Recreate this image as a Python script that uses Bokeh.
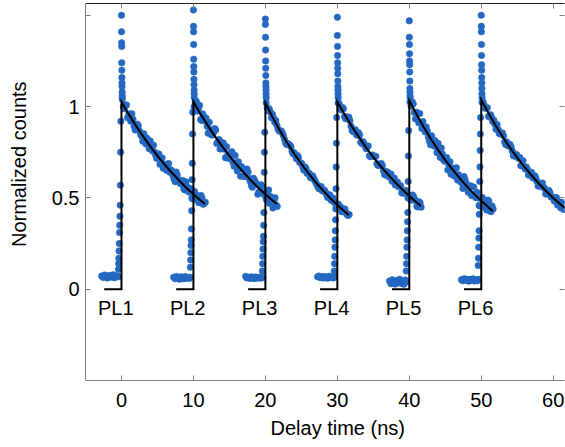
from bokeh.plotting import figure
from bokeh.models import Range1d, LinearAxis, FixedTicker, Title, ColumnDataSource
from bokeh.core.properties import value
from bokeh.embed import file_html
from bokeh.resources import INLINE

# ---------------- data ----------------
pl_names = ["PL1", "PL2", "PL3", "PL4", "PL5", "PL6"]
pl_start = [0, 10, 20, 30, 40, 50]          # ns, excitation time of each trace

x_ticks = [0, 10, 20, 30, 40, 50, 60]
y_ticks = [0, 0.5, 1, 1.5]
y_tick_labels = {0: "0", 0.5: "0.5", 1: "1", 1.5: ""}
x_title = "Delay time (ns)"
y_title = "Normalized counts"

# relative delay times (ns) of the measured points
base_t = [-2.75, -2.55, -2.35, -2.15, -1.95, -1.75, -1.55, -1.35, -1.15, -0.95, -0.75, -0.55, -0.4]
rise_t = [-0.42, -0.39, -0.36, -0.33, -0.30, -0.27, -0.24, -0.21, -0.18, -0.15, -0.12, -0.09]
spike_t = [0.0, 0.01, 0.02, 0.03, 0.04, 0.05, 0.06, 0.07, 0.08, 0.09, 0.10, 0.11]
decay_t = [0.1, 0.4, 0.7, 1.0, 1.3, 1.6, 1.9, 2.2, 2.5, 2.8, 3.1, 3.4, 3.7, 4.0, 4.3, 4.6,
           4.9, 5.2, 5.5, 5.8, 6.1, 6.4, 6.7, 7.0, 7.3, 7.6, 7.9, 8.2, 8.5, 8.8, 9.1, 9.4,
           9.7, 10.0, 10.3, 10.6, 10.9, 11.2, 11.5]
decay2_t = [0.25, 0.55, 0.85, 1.15, 1.45, 1.75, 2.05, 2.35, 2.65, 2.95, 3.25, 3.55, 3.85, 4.15,
            4.45, 4.75, 5.05, 5.35, 5.65, 5.95, 6.25, 6.55, 6.85, 7.15, 7.45, 7.75, 8.05, 8.35,
            8.65, 8.95, 9.25, 9.55, 9.85, 10.15, 10.45, 10.75, 11.05, 11.35, 11.65]
fit_t = [0, 1, 2, 3, 4, 5, 6, 7, 8, 9, 10, 11, 11.6]
fit_base_start = -2.4

pl1_base = [0.072, 0.064, 0.078, 0.068, 0.061, 0.075, 0.070, 0.066, 0.079, 0.063, 0.071, 0.074, 0.068]
pl2_base = [0.066, 0.058, 0.070, 0.061, 0.055, 0.068, 0.063, 0.057, 0.069, 0.060, 0.064, 0.059, 0.066]
pl3_base = [0.070, 0.062, 0.066, 0.059, 0.068, 0.064, 0.058, 0.067, 0.061, 0.065, 0.060, 0.066, 0.063]
pl4_base = [0.068, 0.072, 0.063, 0.069, 0.061, 0.070, 0.066, 0.060, 0.071, 0.064, 0.067, 0.062, 0.069]
pl5_base = [0.045, 0.030, 0.052, 0.038, 0.028, 0.048, 0.035, 0.055, 0.033, 0.044, 0.027, 0.050, 0.040]
pl6_base = [0.052, 0.046, 0.058, 0.049, 0.055, 0.044, 0.053, 0.048, 0.057, 0.045, 0.051, 0.047, 0.054]

pl1_rise = [0.11, 0.14, 0.17, 0.21, 0.25, 0.31, 0.35, 0.40, 0.46, 0.57, 0.75, 0.92]
pl2_rise = [0.12, 0.16, 0.20, 0.24, 0.27, 0.33, 0.43, 0.50, 0.60, 0.69, 0.85, 0.97]
pl3_rise = [0.10, 0.14, 0.18, 0.22, 0.26, 0.29, 0.35, 0.42, 0.52, 0.64, 0.75, 0.86]
pl4_rise = [0.10, 0.14, 0.18, 0.23, 0.27, 0.32, 0.38, 0.44, 0.55, 0.67, 0.80, 0.94]
pl5_rise = [0.10, 0.14, 0.18, 0.23, 0.27, 0.32, 0.37, 0.42, 0.50, 0.59, 0.73, 0.87]
pl6_rise = [0.13, 0.17, 0.23, 0.28, 0.32, 0.41, 0.50, 0.59, 0.67, 0.76, 0.85, 0.94]

pl1_spike = [1.50, 1.41, 1.35, 1.33, 1.24, 1.20, 1.16, 1.13, 1.11, 1.08, 1.06, 1.05]
pl2_spike = [1.53, 1.44, 1.41, 1.34, 1.26, 1.22, 1.19, 1.15, 1.12, 1.09, 1.07, 1.05]
pl3_spike = [1.48, 1.45, 1.38, 1.31, 1.25, 1.21, 1.17, 1.13, 1.11, 1.09, 1.07, 1.05]
pl4_spike = [1.49, 1.39, 1.33, 1.28, 1.24, 1.21, 1.18, 1.14, 1.11, 1.09, 1.07, 1.05]
pl5_spike = [1.47, 1.38, 1.34, 1.29, 1.25, 1.23, 1.19, 1.14, 1.10, 1.08, 1.06, 1.05]
pl6_spike = [1.50, 1.44, 1.41, 1.34, 1.28, 1.23, 1.20, 1.16, 1.13, 1.10, 1.07, 1.05]

pl1_decay = [1.040, 0.989, 1.009, 0.959, 0.920, 0.931, 0.872, 0.904, 0.866, 0.839, 0.852, 0.795,
             0.808, 0.812, 0.757, 0.751, 0.716, 0.741, 0.716, 0.662, 0.678, 0.685, 0.641, 0.648,
             0.605, 0.642, 0.600, 0.578, 0.596, 0.544, 0.563, 0.532, 0.551, 0.520, 0.490, 0.509,
             0.479, 0.499, 0.470]
pl2_decay = [1.000, 1.029, 0.989, 0.929, 0.960, 0.921, 0.892, 0.914, 0.846, 0.859, 0.872, 0.805,
             0.768, 0.802, 0.767, 0.781, 0.716, 0.731, 0.696, 0.732, 0.648, 0.675, 0.671, 0.618,
             0.625, 0.642, 0.590, 0.558, 0.596, 0.574, 0.533, 0.572, 0.531, 0.510, 0.530, 0.469,
             0.499, 0.479, 0.460]
pl3_decay = [1.022, 0.978, 0.970, 0.957, 0.915, 0.898, 0.867, 0.867, 0.841, 0.802, 0.798, 0.789,
             0.755, 0.748, 0.715, 0.723, 0.691, 0.670, 0.669, 0.634, 0.634, 0.609, 0.609, 0.585,
             0.561, 0.563, 0.540, 0.542, 0.519, 0.517, 0.490, 0.499, 0.472, 0.451, 0.455, 0.425,
             0.439, 0.419, 0.404]
pl4_decay = [1.020, 0.993, 0.996, 0.946, 0.944, 0.942, 0.893, 0.863, 0.874, 0.844, 0.845, 0.798,
             0.799, 0.770, 0.784, 0.726, 0.735, 0.726, 0.687, 0.685, 0.688, 0.650, 0.625, 0.641,
             0.622, 0.592, 0.609, 0.579, 0.561, 0.567, 0.525, 0.538, 0.521, 0.504, 0.488, 0.507,
             0.485, 0.451, 0.472]
pl5_decay = [1.025, 1.026, 0.968, 0.970, 0.912, 0.915, 0.918, 0.862, 0.867, 0.812, 0.841, 0.786,
             0.781, 0.799, 0.722, 0.741, 0.701, 0.721, 0.681, 0.630, 0.663, 0.660, 0.598, 0.608,
             0.582, 0.617, 0.580, 0.531, 0.567, 0.518, 0.518, 0.531, 0.459, 0.496, 0.449, 0.463,
             0.488, 0.430, 0.456]
pl6_decay = [1.024, 1.008, 0.992, 0.947, 0.956, 0.918, 0.904, 0.902, 0.853, 0.852, 0.840, 0.792,
             0.786, 0.793, 0.758, 0.730, 0.738, 0.716, 0.677, 0.704, 0.659, 0.657, 0.625, 0.641,
             0.609, 0.608, 0.565, 0.565, 0.582, 0.552, 0.522, 0.541, 0.505, 0.500, 0.501, 0.461,
             0.474, 0.476, 0.436]

pl1_decay2 = [1.000, 1.009, 0.939, 0.960, 0.961, 0.892, 0.893, 0.895, 0.848, 0.811, 0.834, 0.827,
              0.770, 0.775, 0.789, 0.734, 0.739, 0.684, 0.719, 0.685, 0.652, 0.688, 0.655, 0.622,
              0.589, 0.626, 0.594, 0.592, 0.550, 0.589, 0.538, 0.537, 0.496, 0.535, 0.515, 0.474,
              0.514, 0.465, 0.476]
pl2_decay2 = [1.023, 0.976, 1.008, 0.924, 0.944, 0.938, 0.854, 0.875, 0.845, 0.880, 0.798, 0.820,
              0.790, 0.801, 0.720, 0.731, 0.742, 0.753, 0.673, 0.685, 0.698, 0.619, 0.658, 0.619,
              0.658, 0.606, 0.568, 0.608, 0.583, 0.520, 0.535, 0.563, 0.526, 0.489, 0.544, 0.507,
              0.445, 0.501, 0.453]
pl3_decay2 = [0.995, 0.987, 0.939, 0.936, 0.924, 0.878, 0.867, 0.857, 0.822, 0.793, 0.794, 0.780,
              0.742, 0.734, 0.732, 0.695, 0.688, 0.652, 0.662, 0.637, 0.612, 0.622, 0.597, 0.573,
              0.550, 0.562, 0.539, 0.531, 0.503, 0.516, 0.485, 0.478, 0.452, 0.466, 0.450, 0.425,
              0.439, 0.409, 0.409]
pl4_decay2 = [1.017, 0.982, 0.989, 0.934, 0.935, 0.923, 0.869, 0.872, 0.846, 0.857, 0.805, 0.809,
              0.785, 0.782, 0.731, 0.730, 0.729, 0.728, 0.678, 0.678, 0.677, 0.629, 0.643, 0.616,
              0.631, 0.598, 0.571, 0.587, 0.568, 0.528, 0.531, 0.541, 0.516, 0.491, 0.516, 0.491,
              0.453, 0.479, 0.449]
pl5_decay2 = [1.002, 1.015, 0.933, 0.959, 0.962, 0.881, 0.884, 0.889, 0.834, 0.791, 0.820, 0.814,
              0.748, 0.755, 0.774, 0.709, 0.717, 0.653, 0.698, 0.659, 0.620, 0.665, 0.627, 0.589,
              0.552, 0.599, 0.562, 0.561, 0.513, 0.560, 0.501, 0.501, 0.454, 0.503, 0.480, 0.434,
              0.483, 0.425, 0.439]
pl6_decay2 = [1.025, 0.991, 0.994, 0.943, 0.940, 0.926, 0.876, 0.875, 0.850, 0.855, 0.807, 0.807,
              0.784, 0.779, 0.732, 0.728, 0.724, 0.721, 0.676, 0.673, 0.670, 0.626, 0.636, 0.610,
              0.621, 0.590, 0.565, 0.577, 0.558, 0.522, 0.523, 0.529, 0.506, 0.483, 0.502, 0.480,
              0.445, 0.465, 0.437]

pl1_fit = [1.027, 0.959, 0.896, 0.837, 0.782, 0.731, 0.683, 0.638, 0.596, 0.556, 0.520, 0.486, 0.467]
pl2_fit = [1.027, 0.959, 0.896, 0.837, 0.782, 0.731, 0.683, 0.638, 0.596, 0.556, 0.520, 0.486, 0.467]
pl3_fit = [1.020, 0.942, 0.870, 0.804, 0.743, 0.686, 0.634, 0.585, 0.541, 0.499, 0.461, 0.426, 0.406]
pl4_fit = [1.027, 0.958, 0.893, 0.833, 0.776, 0.724, 0.675, 0.630, 0.587, 0.548, 0.511, 0.476, 0.456]
pl5_fit = [1.033, 0.958, 0.888, 0.823, 0.763, 0.707, 0.656, 0.608, 0.563, 0.522, 0.484, 0.449, 0.427]
pl6_fit = [1.038, 0.965, 0.897, 0.834, 0.775, 0.721, 0.670, 0.623, 0.579, 0.538, 0.500, 0.465, 0.445]

bases = [pl1_base, pl2_base, pl3_base, pl4_base, pl5_base, pl6_base]
rises = [pl1_rise, pl2_rise, pl3_rise, pl4_rise, pl5_rise, pl6_rise]
spikes = [pl1_spike, pl2_spike, pl3_spike, pl4_spike, pl5_spike, pl6_spike]
decays = [pl1_decay, pl2_decay, pl3_decay, pl4_decay, pl5_decay, pl6_decay]
decays2 = [pl1_decay2, pl2_decay2, pl3_decay2, pl4_decay2, pl5_decay2, pl6_decay2]
fits = [pl1_fit, pl2_fit, pl3_fit, pl4_fit, pl5_fit, pl6_fit]

# ---------------- style ----------------
FONT = "Liberation Sans"
FS = "20px"
BLUE = "#2468c2"
GRAY = "#808080"

p = figure(width=565, height=447,
           x_range=Range1d(-5, 61.57), y_range=Range1d(-0.5, 1.565),
           output_backend="svg", toolbar_location=None,
           x_axis_location=None, y_axis_location=None,
           min_border_left=85, min_border_right=1, min_border_top=3, min_border_bottom=67)
p.outline_line_color = None
p.grid.visible = False
p.background_fill_color = "white"
p.border_fill_color = "white"

# measured points
xs, ys = [], []
for s, b, r, sp, d, d2 in zip(pl_start, bases, rises, spikes, decays, decays2):
    for tt, vv in zip(base_t + rise_t + spike_t + decay_t + decay2_t, b + r + sp + d + d2):
        xs.append(s + tt)
        ys.append(vv)
src = ColumnDataSource(dict(x=xs, y=ys))
p.scatter("x", "y", source=src, size=6.5, fill_color=BLUE, line_color=BLUE, line_width=0.5)

# fits
for s, f in zip(pl_start, fits):
    lx = [s + fit_base_start, s] + [s + tt for tt in fit_t]
    ly = [0, 0] + f
    p.line(lx, ly, line_color="black", line_width=2, line_join="miter")

# trace labels
p.text(x=[s - 0.8 for s in pl_start], y=[-0.101] * len(pl_start), text=pl_names,
       text_font=value(FONT), text_font_size=FS, text_align="center",
       text_baseline="alphabetic", text_color="black")

# axes
def make_axis(ticks, show_labels, line_color, overrides=None, standoff=8):
    ax = LinearAxis(ticker=FixedTicker(ticks=ticks),
                    major_tick_in=5, major_tick_out=0,
                    minor_tick_line_color=None,
                    axis_line_color=line_color, axis_line_width=1,
                    major_tick_line_color=GRAY, major_tick_line_width=1,
                    major_label_text_font=FONT,
                    major_label_text_font_size=FS if show_labels else "0px",
                    major_label_standoff=standoff if show_labels else 0,
                    major_label_text_color="black" if show_labels else None)
    if overrides:
        ax.major_label_overrides = overrides
    return ax

left_axis = make_axis(y_ticks, True, GRAY, overrides=y_tick_labels, standoff=6)
# the reference's y title sits above the frame centre: pad its start with no-break spaces
left_axis.axis_label = "\u00a0" * 10 + y_title
left_axis.axis_label_standoff = 19
left_axis.axis_label_text_font = FONT
left_axis.axis_label_text_font_size = FS
left_axis.axis_label_text_font_style = "normal"
left_axis.axis_label_text_color = "black"

p.add_layout(make_axis(x_ticks, True, GRAY, standoff=12), "below")
p.add_layout(left_axis, "left")
p.add_layout(make_axis(x_ticks, False, "#222222"), "above")
p.add_layout(make_axis(y_ticks, False, None), "right")

# x title
p.add_layout(Title(text=x_title, align="left", offset=185, standoff=10,
                   text_font=FONT, text_font_size=FS, text_font_style="normal",
                   text_color="black"), "below")

open("out.html", "w").write(file_html(p, INLINE))
